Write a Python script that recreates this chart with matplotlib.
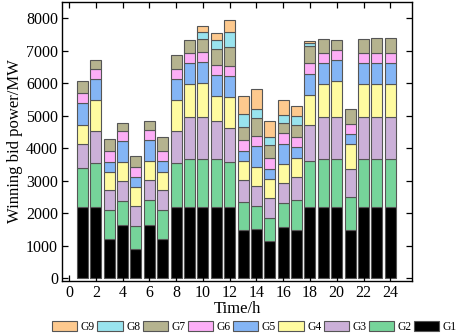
import matplotlib
matplotlib.use("Agg")
import matplotlib.pyplot as plt
from matplotlib.patches import Patch
import numpy as np

hours = list(range(1, 25))
G1 = [2200, 2200, 1200, 1630, 890, 1630, 1200, 2200, 2200, 2200, 2200, 2200,
      1465, 1510, 1140, 1580, 1465, 2200, 2200, 2200, 1465, 2200, 2200, 2200]
G2 = [1200, 1340, 880, 740, 700, 780, 880, 1340, 1470, 1470, 1460, 1360,
      890, 695, 710, 730, 935, 1400, 1470, 1470, 1015, 1470, 1470, 1470]
G3 = [740, 985, 615, 615, 615, 615, 615, 985, 1285, 1285, 1170, 1070,
      670, 630, 615, 615, 715, 1110, 1285, 1285, 890, 1285, 1285, 1285]
G4 = [585, 940, 565, 585, 595, 575, 575, 940, 1005, 1035, 770, 930,
      575, 585, 585, 570, 575, 925, 1005, 1105, 740, 1005, 1005, 1005]
G5 = [660, 660, 325, 645, 310, 655, 330, 660, 660, 660, 655, 660,
      325, 635, 315, 645, 330, 655, 660, 635, 320, 660, 660, 660]
G6 = [305, 310, 320, 315, 315, 310, 300, 310, 310, 310, 315, 295,
      320, 320, 315, 310, 330, 330, 310, 320, 315, 310, 310, 310]
G7 = [360, 275, 370, 255, 330, 255, 440, 440, 380, 410, 475, 585,
      390, 540, 400, 320, 360, 535, 420, 325, 450, 430, 450, 470]
G8 = [0, 0, 0, 0, 0, 0, 0, 0, 0, 205, 285, 460,
      400, 300, 275, 235, 265, 85, 0, 0, 0, 0, 0, 0]
G9 = [0, 0, 0, 0, 0, 0, 0, 0, 0, 185, 215, 390,
      555, 605, 475, 475, 310, 50, 0, 0, 0, 0, 0, 0]

series = [("G1", G1), ("G2", G2), ("G3", G3), ("G4", G4), ("G5", G5),
          ("G6", G6), ("G7", G7), ("G8", G8), ("G9", G9)]
colors = {"G1": "#000000", "G2": "#76D49A", "G3": "#CBB0D8", "G4": "#FFFBA0",
          "G5": "#84B5F5", "G6": "#FCAEF6", "G7": "#B5B38F", "G8": "#99E3EE",
          "G9": "#FDC98E"}
edge = "#555555"

plt.rcParams['font.family'] = ['Liberation Serif', 'DejaVu Serif']

fig = plt.figure(figsize=(4.57, 3.34), dpi=100)
ax = fig.add_axes([0.1363, 0.1596, 0.7646, 0.835])

bottom = np.zeros(len(hours))
for name, vals in series:
    v = np.array(vals, dtype=float)
    lw = [0.8 if x > 0 else 0 for x in v]
    ax.bar(hours, v, bottom=bottom, width=0.82, color=colors[name],
           edgecolor=edge, linewidth=lw, label=name)
    bottom += v

ax.set_xlim(-0.5, 25.6)
ax.set_ylim(-80, 8500)
ax.set_xticks(range(0, 25, 2))
ax.set_yticks(range(0, 8001, 1000))
ax.tick_params(direction="in", top=True, right=True, labelsize=11.5,
               length=4, width=0.9, pad=3)
for s in ax.spines.values():
    s.set_linewidth(1.0)
ax.set_xlabel("Time/h", fontsize=12, labelpad=0)
ax.set_ylabel("Winning bid power/MW", fontsize=12, labelpad=2)

order = ["G9", "G8", "G7", "G6", "G5", "G4", "G3", "G2", "G1"]
proxies = [Patch(facecolor=colors[n], edgecolor=edge, linewidth=0.8) for n in order]
leg = fig.legend(proxies, order, ncol=9,
                 loc="upper left", bbox_to_anchor=(52 / 457, 1 - 321 / 334),
                 frameon=False, fontsize=8.3, handlelength=2.2,
                 handleheight=0.9, handletextpad=0.3, columnspacing=0.2,
                 borderpad=0, borderaxespad=0)

fig.savefig("out.png", dpi=100)
